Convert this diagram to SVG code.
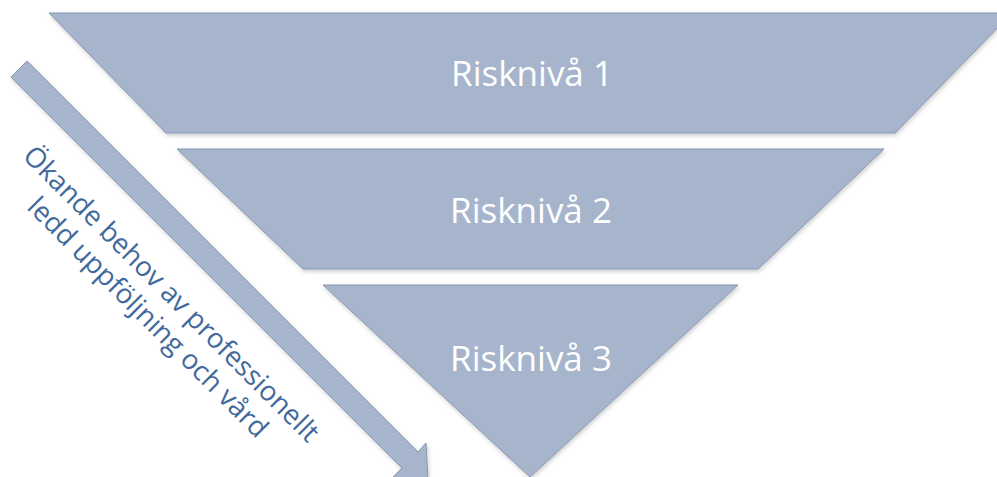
<svg xmlns="http://www.w3.org/2000/svg" width="997" height="477" viewBox="0 0 997 477">
  <style>
    .band { fill: #A6B5CC; stroke: #8797B1; stroke-width: 1; filter: url(#soft); }
    .label { font-family: "Open Sans", "Liberation Sans", sans-serif; font-size: 35px; fill: #FFFFFF; text-anchor: middle; }
    .side { font-family: "Open Sans", "Liberation Sans", sans-serif; font-size: 27.5px; fill: #41699B; text-anchor: middle; }
  </style>
  <defs>
    <filter id="soft" x="-10%" y="-10%" width="120%" height="130%">
      <feDropShadow dx="1" dy="2" stdDeviation="2" flood-color="#000000" flood-opacity="0.2"/>
    </filter>
  </defs>
  <rect width="997" height="477" fill="#FFFFFF"/>

  <!-- level 1 -->
  <g id="level1">
    <polygon class="band" points="49,13 1012,13 895,133 166,133"/>
    <text class="label" x="532" y="86">Risknivå 1</text>
  </g>

  <!-- level 2 -->
  <g id="level2">
    <polygon class="band" points="177,149 884,149 758,269 303,269"/>
    <text class="label" x="531" y="223">Risknivå 2</text>
  </g>

  <!-- level 3 -->
  <g id="level3">
    <polygon class="band" points="323,285 738,285 530,477"/>
    <text class="label" x="531" y="371">Risknivå 3</text>
  </g>

  <!-- diagonal arrow with its caption -->
  <g id="connectors">
    <polygon class="band" points="11,77 27,61 418,452 426,443 428,480 392,478 402,468"/>
  </g>
  <g id="caption" transform="rotate(45)">
    <text class="side" x="329" y="96">Ökande behov av professionellt</text>
    <text class="side" x="329" y="129">ledd uppföljning och vård</text>
  </g>
</svg>
